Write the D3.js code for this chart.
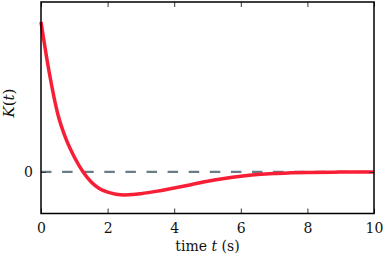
<!DOCTYPE html>
<meta charset="utf-8">
<style>
  body { margin: 0; background: #fff; }
  svg text { font-family: "DejaVu Serif", serif; }
</style>
<svg width="384" height="258"></svg>
<script src="https://d3js.org/d3.v7.min.js"></script>
<script>
// time axis (s) and the kernel values
var times = [0, 0.25, 0.5, 0.75, 1.0, 1.25, 1.5, 1.75, 2.0, 2.25, 2.5, 2.75, 3.0,
             3.5, 4.0, 4.5, 5.0, 5.5, 6.0, 6.5, 7.0, 7.5, 8.0, 9.0, 10.0];
var kernel = [1.0, 0.66, 0.39, 0.22, 0.10, 0.005, -0.065, -0.11, -0.135, -0.148, -0.153, -0.151, -0.145,
              -0.128, -0.107, -0.085, -0.062, -0.043, -0.028, -0.017, -0.010, -0.006, -0.003, -0.001, 0.0];
var xTicks = [0, 2, 4, 6, 8, 10];
var yTicks = [0];

var svg = d3.select("svg"),
    margin = {top: 2, right: 10, bottom: 44.5, left: 41},
    width = +svg.attr("width") - margin.left - margin.right,
    height = +svg.attr("height") - margin.top - margin.bottom,
    g = svg.append("g").attr("transform", "translate(" + margin.left + "," + margin.top + ")");

var x = d3.scaleLinear().domain([0, 10]).range([0, width]);
var y = d3.scaleLinear().domain([-0.277, 1.133]).range([height, 0]);

var data = times.map(function(t, i) { return {t: t, k: kernel[i]}; });

// zero reference line
g.append("line")
    .attr("x1", x(0)).attr("x2", x(10))
    .attr("y1", y(0)).attr("y2", y(0))
    .attr("stroke", "#6b7d84")
    .attr("stroke-width", 2.2)
    .attr("stroke-dasharray", "10.5,10.6");

var line = d3.line()
    .x(function(d) { return x(d.t); })
    .y(function(d) { return y(d.k); })
    .curve(d3.curveMonotoneX);

g.append("path")
    .datum(data)
    .attr("fill", "none")
    .attr("stroke", "#f81e36")
    .attr("stroke-width", 3.5)
    .attr("d", line);

// ticks pointing inward, on all four sides
var tickLen = 5;
function inward(sel) {
  sel.attr("font-family", null);
  sel.select(".domain").remove();
  sel.selectAll(".tick line").attr("stroke", "#333").attr("stroke-width", 1);
}

g.append("g")
    .attr("transform", "translate(0," + height + ")")
    .call(d3.axisBottom(x).tickValues(xTicks).tickSize(-tickLen).tickPadding(10).tickFormat(d3.format("d")))
    .call(inward)
    .selectAll("text").attr("font-size", "14px").attr("fill", "#111");

g.append("g")
    .call(d3.axisTop(x).tickValues(xTicks).tickSize(-tickLen).tickFormat(""))
    .call(inward);

g.append("g")
    .call(d3.axisLeft(y).tickValues(yTicks).tickSize(-tickLen).tickPadding(8).tickFormat(d3.format("d")))
    .call(inward)
    .selectAll("text").attr("font-size", "14px").attr("fill", "#111");

g.append("g")
    .attr("transform", "translate(" + width + ",0)")
    .call(d3.axisRight(y).tickValues(yTicks).tickSize(-tickLen).tickFormat(""))
    .call(inward);

// frame
g.append("rect")
    .attr("width", width).attr("height", height)
    .attr("fill", "none")
    .attr("stroke", "#000")
    .attr("stroke-width", 1.5);

// axis labels
var xl = svg.append("text")
    .attr("x", margin.left + width / 2)
    .attr("y", 251)
    .attr("text-anchor", "middle")
    .attr("font-size", "14px")
    .attr("fill", "#111");
xl.append("tspan").text("time ");
xl.append("tspan").attr("font-style", "italic").text("t");
xl.append("tspan").text(" (s)");

var yl = svg.append("text")
    .attr("transform", "translate(14," + (margin.top + 101) + ") rotate(-90)")
    .attr("text-anchor", "middle")
    .attr("font-size", "15px")
    .attr("fill", "#111");
yl.append("tspan").attr("font-style", "italic").text("K");
yl.append("tspan").text("(");
yl.append("tspan").attr("font-style", "italic").text("t");
yl.append("tspan").text(")");
</script>
